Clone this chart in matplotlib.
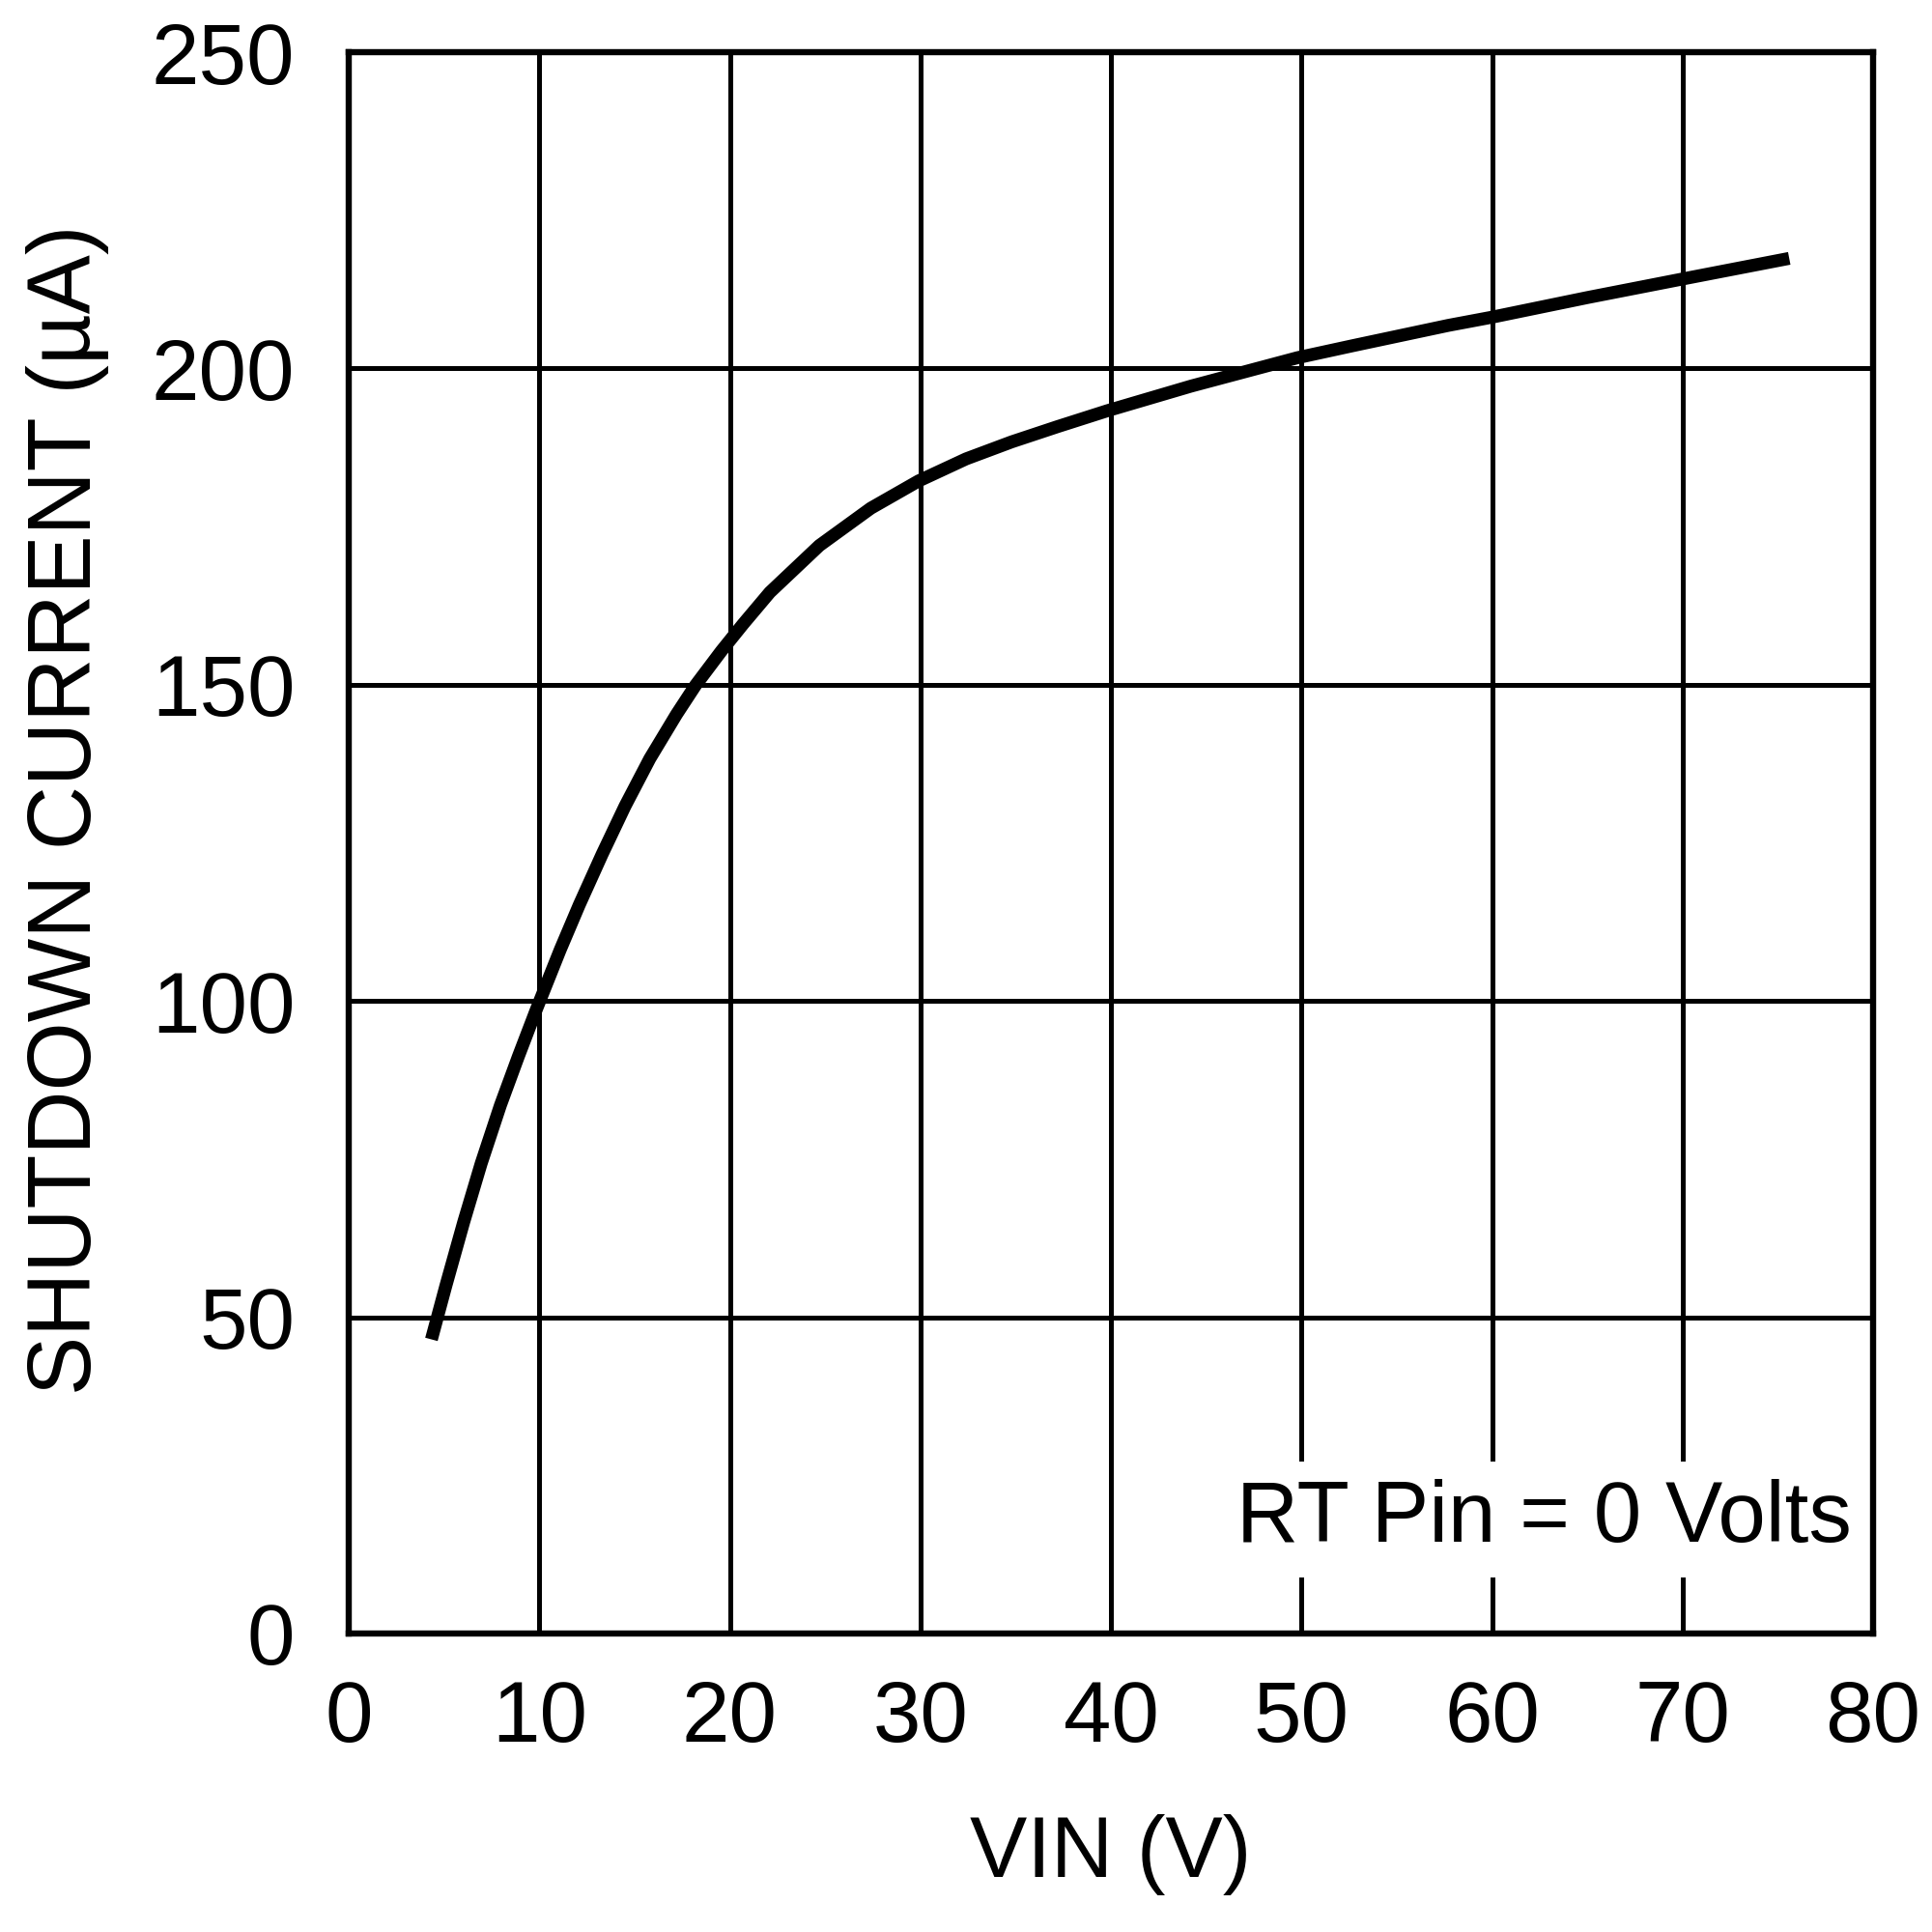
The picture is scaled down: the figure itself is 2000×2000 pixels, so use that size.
import matplotlib
matplotlib.use("Agg")
import matplotlib.pyplot as plt

plt.rcParams['font.family'] = ['Liberation Sans', 'DejaVu Sans']

# Data
vin = [4.34, 5.1, 6.03, 6.95, 7.96, 8.9, 9.84, 11.1, 12.1, 13.3, 14.5, 15.8,
       17.2, 18.2, 19.55, 20.7, 22.1, 24.7, 27.4, 29.9, 32.4, 34.8, 37.2,
       39.8, 44.2, 49.8, 52.7, 57.7, 60.0, 65.0, 70.1, 75.6]
current = [46.5, 55.0, 65.0, 74.3, 83.5, 91.2, 98.6, 108.1, 115.2, 123.2,
           130.8, 138.3, 145.3, 149.9, 155.3, 159.6, 164.6, 172.0, 177.9,
           182.2, 185.7, 188.4, 190.8, 193.3, 197.2, 201.7, 203.6, 206.8,
           208.1, 211.2, 214.2, 217.4]

x_ticks = [0, 10, 20, 30, 40, 50, 60, 70, 80]
y_ticks = [0, 50, 100, 150, 200, 250]

fig = plt.figure(figsize=(10, 10), dpi=200)
ax = fig.add_axes([0.1805, 0.1545, 0.789, 0.8185])

ax.plot(vin, current, color='black', linewidth=4.8, solid_capstyle='butt',
        solid_joinstyle='round', zorder=3)

ax.set_xlim(0, 80)
ax.set_ylim(0, 250)
ax.set_xticks(x_ticks)
ax.set_yticks(y_ticks)
ax.grid(True, color='black', linewidth=1.8)
ax.set_axisbelow(True)
for s in ax.spines.values():
    s.set_linewidth(2.3)
    s.set_color('black')

ax.tick_params(axis='both', length=0, labelsize=32)
ax.tick_params(axis='y', pad=20)
ax.tick_params(axis='x', pad=17)

ax.set_xlabel('VIN (V)', fontsize=32)
ax.set_ylabel('SHUTDOWN CURRENT (µA)', fontsize=33)
ax.xaxis.set_label_coords(0.5, -0.114)
ax.yaxis.set_label_coords(-0.157, 0.521)

ax.text(0.986, 0.058, 'RT Pin = 0 Volts', transform=ax.transAxes, fontsize=32,
        ha='right', va='baseline', zorder=2.4,
        bbox=dict(boxstyle='square,pad=0.2', facecolor='white', edgecolor='none'))

fig.savefig('out.png', dpi=200, facecolor='white')
